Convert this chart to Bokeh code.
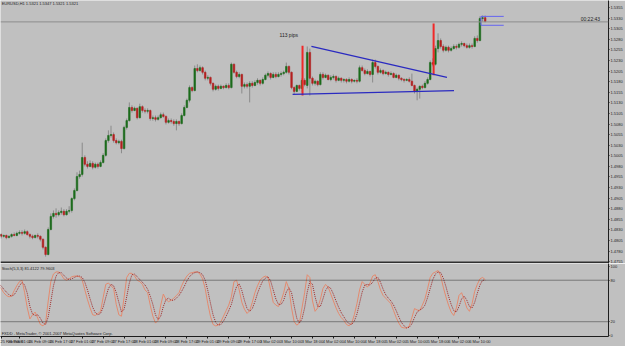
from bokeh.plotting import figure
from bokeh.layouts import column
from bokeh.models import (Range1d, FixedTicker, Span, Label, ColumnDataSource,
                          PrintfTickFormatter)
from bokeh.embed import file_html
from bokeh.resources import INLINE

# ---------------- data (EURUSD H1) ----------------
opens = [
    1.4817, 1.4819, 1.4815, 1.4817, 1.4812, 1.4815, 1.4819, 1.4817, 1.4822, 1.4824,
    1.4822, 1.4826, 1.4819, 1.4815, 1.4812, 1.4817, 1.4815, 1.4808, 1.4789, 1.4772,
    1.4831, 1.4862, 1.4869, 1.4866, 1.4871, 1.4874, 1.4866, 1.4874, 1.4876, 1.4904,
    1.4923, 1.4956, 1.4961, 1.5001, 1.4985, 1.4980, 1.4987, 1.4978, 1.4985, 1.4980,
    1.4989, 1.5006, 1.5041, 1.5053, 1.5055, 1.5041, 1.5036, 1.5039, 1.5022, 1.5072,
    1.5088, 1.5119, 1.5112, 1.5117, 1.5095, 1.5121, 1.5112, 1.5110, 1.5112, 1.5093,
    1.5095, 1.5091, 1.5095, 1.5102, 1.5098, 1.5084, 1.5088, 1.5086, 1.5081, 1.5086,
    1.5081, 1.5100, 1.5119, 1.5136, 1.5166, 1.5159, 1.5211, 1.5206, 1.5213, 1.5202,
    1.5188, 1.5190, 1.5176, 1.5162, 1.5169, 1.5164, 1.5169, 1.5166, 1.5171, 1.5166,
    1.5221, 1.5202, 1.5192, 1.5197, 1.5169, 1.5173, 1.5169, 1.5176, 1.5171, 1.5178,
    1.5183, 1.5176, 1.5185, 1.5195, 1.5199, 1.5190, 1.5197, 1.5192, 1.5197, 1.5199,
    1.5202, 1.5216, 1.5202, 1.5166, 1.5157, 1.5171, 1.5164, 1.5183, 1.5171, 1.5249,
    1.5188, 1.5176, 1.5181, 1.5173, 1.5197, 1.5190, 1.5195, 1.5185, 1.5190, 1.5192,
    1.5183, 1.5188, 1.5183, 1.5185, 1.5181, 1.5185, 1.5181, 1.5183, 1.5181, 1.5213,
    1.5206, 1.5199, 1.5204, 1.5197, 1.5225, 1.5216, 1.5202, 1.5206, 1.5199, 1.5202,
    1.5197, 1.5199, 1.5190, 1.5195, 1.5188, 1.5185, 1.5183, 1.5185, 1.5181, 1.5171,
    1.5157, 1.5162, 1.5169, 1.5166, 1.5176, 1.5185, 1.5225, 1.5221, 1.5258, 1.5277,
    1.5263, 1.5254, 1.5261, 1.5254, 1.5258, 1.5263, 1.5261, 1.5268, 1.5270, 1.5265,
    1.5261, 1.5265, 1.5263, 1.5282, 1.5277, 1.5329, 1.5331,
]
highs = [
    1.4824, 1.4822, 1.4819, 1.4819, 1.4817, 1.4822, 1.4824, 1.4826, 1.4829, 1.4829,
    1.4831, 1.4829, 1.4822, 1.4819, 1.4819, 1.4822, 1.4817, 1.4810, 1.4791, 1.4836,
    1.4869, 1.4876, 1.4881, 1.4876, 1.4883, 1.4879, 1.4879, 1.4886, 1.4907, 1.4928,
    1.4966, 1.4970, 1.5036, 1.5006, 1.4992, 1.4994, 1.4992, 1.4989, 1.4989, 1.4994,
    1.5011, 1.5046, 1.5065, 1.5076, 1.5060, 1.5046, 1.5043, 1.5043, 1.5076, 1.5093,
    1.5131, 1.5124, 1.5121, 1.5119, 1.5128, 1.5124, 1.5117, 1.5117, 1.5114, 1.5100,
    1.5100, 1.5100, 1.5107, 1.5107, 1.5100, 1.5093, 1.5093, 1.5091, 1.5091, 1.5088,
    1.5105, 1.5124, 1.5140, 1.5171, 1.5169, 1.5218, 1.5221, 1.5218, 1.5216, 1.5206,
    1.5195, 1.5192, 1.5178, 1.5173, 1.5173, 1.5173, 1.5171, 1.5176, 1.5176, 1.5225,
    1.5223, 1.5206, 1.5202, 1.5199, 1.5178, 1.5178, 1.5181, 1.5181, 1.5183, 1.5188,
    1.5185, 1.5190, 1.5199, 1.5204, 1.5202, 1.5202, 1.5202, 1.5202, 1.5204, 1.5206,
    1.5225, 1.5218, 1.5204, 1.5169, 1.5173, 1.5173, 1.5188, 1.5188, 1.5263, 1.5258,
    1.5192, 1.5185, 1.5183, 1.5202, 1.5202, 1.5199, 1.5197, 1.5195, 1.5197, 1.5195,
    1.5192, 1.5190, 1.5188, 1.5188, 1.5190, 1.5188, 1.5185, 1.5188, 1.5218, 1.5218,
    1.5211, 1.5209, 1.5206, 1.5232, 1.5232, 1.5218, 1.5211, 1.5209, 1.5206, 1.5204,
    1.5204, 1.5202, 1.5199, 1.5197, 1.5190, 1.5188, 1.5188, 1.5190, 1.5199, 1.5173,
    1.5166, 1.5171, 1.5173, 1.5181, 1.5190, 1.5230, 1.5235, 1.5265, 1.5294, 1.5282,
    1.5268, 1.5265, 1.5265, 1.5263, 1.5268, 1.5268, 1.5272, 1.5275, 1.5272, 1.5270,
    1.5270, 1.5270, 1.5287, 1.5289, 1.5334, 1.5336, 1.5336,
]
lows = [
    1.4812, 1.4810, 1.4812, 1.4808, 1.4810, 1.4812, 1.4815, 1.4815, 1.4819, 1.4817,
    1.4819, 1.4817, 1.4810, 1.4808, 1.4810, 1.4810, 1.4803, 1.4784, 1.4767, 1.4770,
    1.4829, 1.4857, 1.4859, 1.4862, 1.4866, 1.4862, 1.4864, 1.4869, 1.4871, 1.4900,
    1.4921, 1.4951, 1.4956, 1.4980, 1.4975, 1.4978, 1.4973, 1.4975, 1.4975, 1.4978,
    1.4987, 1.5003, 1.5036, 1.5048, 1.5036, 1.5032, 1.5032, 1.5011, 1.5020, 1.5067,
    1.5086, 1.5107, 1.5110, 1.5091, 1.5093, 1.5107, 1.5105, 1.5105, 1.5088, 1.5088,
    1.5086, 1.5088, 1.5093, 1.5095, 1.5079, 1.5081, 1.5081, 1.5076, 1.5065, 1.5076,
    1.5079, 1.5098, 1.5117, 1.5131, 1.5155, 1.5157, 1.5202, 1.5204, 1.5197, 1.5183,
    1.5183, 1.5171, 1.5157, 1.5159, 1.5159, 1.5162, 1.5162, 1.5164, 1.5162, 1.5164,
    1.5199, 1.5188, 1.5188, 1.5152, 1.5164, 1.5164, 1.5131, 1.5166, 1.5169, 1.5173,
    1.5171, 1.5173, 1.5183, 1.5190, 1.5185, 1.5188, 1.5188, 1.5190, 1.5192, 1.5195,
    1.5199, 1.5197, 1.5162, 1.5150, 1.5155, 1.5159, 1.5155, 1.5169, 1.5164, 1.5147,
    1.5171, 1.5171, 1.5169, 1.5171, 1.5185, 1.5188, 1.5183, 1.5181, 1.5185, 1.5178,
    1.5181, 1.5178, 1.5178, 1.5176, 1.5178, 1.5176, 1.5178, 1.5176, 1.5178, 1.5204,
    1.5195, 1.5197, 1.5192, 1.5178, 1.5211, 1.5197, 1.5199, 1.5195, 1.5197, 1.5192,
    1.5195, 1.5188, 1.5188, 1.5183, 1.5181, 1.5178, 1.5181, 1.5178, 1.5169, 1.5152,
    1.5136, 1.5140, 1.5162, 1.5164, 1.5173, 1.5183, 1.5216, 1.5218, 1.5249, 1.5258,
    1.5249, 1.5251, 1.5249, 1.5251, 1.5256, 1.5256, 1.5258, 1.5263, 1.5261, 1.5258,
    1.5258, 1.5258, 1.5261, 1.5272, 1.5275, 1.5322, 1.5320,
]
closes = [
    1.4819, 1.4815, 1.4817, 1.4812, 1.4815, 1.4819, 1.4817, 1.4822, 1.4824, 1.4822,
    1.4826, 1.4819, 1.4815, 1.4812, 1.4817, 1.4815, 1.4808, 1.4789, 1.4772, 1.4831,
    1.4862, 1.4869, 1.4866, 1.4871, 1.4874, 1.4866, 1.4874, 1.4876, 1.4904, 1.4923,
    1.4956, 1.4961, 1.5001, 1.4985, 1.4980, 1.4987, 1.4978, 1.4985, 1.4980, 1.4989,
    1.5006, 1.5041, 1.5053, 1.5055, 1.5041, 1.5036, 1.5039, 1.5022, 1.5072, 1.5088,
    1.5119, 1.5112, 1.5117, 1.5095, 1.5121, 1.5112, 1.5110, 1.5112, 1.5093, 1.5095,
    1.5091, 1.5095, 1.5102, 1.5098, 1.5084, 1.5088, 1.5086, 1.5081, 1.5086, 1.5081,
    1.5100, 1.5119, 1.5136, 1.5166, 1.5159, 1.5211, 1.5206, 1.5213, 1.5202, 1.5188,
    1.5190, 1.5176, 1.5162, 1.5169, 1.5164, 1.5169, 1.5166, 1.5171, 1.5166, 1.5221,
    1.5202, 1.5192, 1.5197, 1.5169, 1.5173, 1.5169, 1.5176, 1.5171, 1.5178, 1.5183,
    1.5176, 1.5185, 1.5195, 1.5199, 1.5190, 1.5197, 1.5192, 1.5197, 1.5199, 1.5202,
    1.5216, 1.5202, 1.5166, 1.5157, 1.5171, 1.5164, 1.5183, 1.5173, 1.5249, 1.5188,
    1.5176, 1.5181, 1.5173, 1.5197, 1.5190, 1.5195, 1.5185, 1.5190, 1.5192, 1.5183,
    1.5188, 1.5183, 1.5185, 1.5181, 1.5185, 1.5181, 1.5183, 1.5181, 1.5213, 1.5206,
    1.5199, 1.5204, 1.5197, 1.5225, 1.5216, 1.5202, 1.5206, 1.5199, 1.5202, 1.5197,
    1.5199, 1.5190, 1.5195, 1.5188, 1.5185, 1.5183, 1.5185, 1.5181, 1.5171, 1.5157,
    1.5162, 1.5169, 1.5166, 1.5176, 1.5185, 1.5225, 1.5221, 1.5258, 1.5277, 1.5263,
    1.5254, 1.5261, 1.5254, 1.5258, 1.5263, 1.5261, 1.5268, 1.5270, 1.5265, 1.5261,
    1.5265, 1.5263, 1.5282, 1.5277, 1.5329, 1.5331, 1.5322,
]

stoch_main = [
    72, 68, 62, 58, 56, 57, 65, 72, 78, 80,
    62, 40, 24, 30, 34, 25, 16, 14, 18, 50,
    78, 89, 92, 92, 88, 82, 80, 82, 85, 86,
    86, 85, 80, 66, 52, 40, 30, 29, 32, 35,
    55, 74, 76, 72, 68, 45, 30, 28, 55, 84,
    90, 90, 86, 80, 78, 74, 66, 62, 44, 28,
    18, 22, 44, 60, 52, 49, 51, 54, 58, 62,
    72, 80, 86, 90, 91, 92, 92, 89, 82, 68,
    46, 28, 16, 14, 15, 20, 28, 36, 44, 56,
    78, 80, 66, 48, 38, 32, 36, 48, 62, 72,
    80, 84, 86, 84, 66, 48, 44, 42, 50, 62,
    78, 68, 40, 20, 15, 18, 40, 62, 88, 84,
    50, 35, 40, 52, 68, 74, 70, 60, 50, 40,
    32, 26, 22, 16, 14, 18, 30, 46, 66, 78,
    74, 70, 76, 86, 88, 78, 66, 58, 54, 50,
    46, 36, 26, 18, 12, 11, 11, 14, 26, 39,
    37, 36, 44, 53, 68, 84, 90, 92, 94, 86,
    70, 56, 44, 34, 29, 40, 58, 62, 52, 40,
    35, 46, 64, 74, 82, 84, 81,
]
stoch_signal = [
    74, 72, 67, 63, 59, 57, 59, 65, 72, 77,
    73, 61, 42, 31, 29, 30, 25, 18, 16, 27,
    49, 72, 86, 91, 91, 87, 83, 81, 82, 84,
    86, 86, 84, 77, 66, 53, 41, 33, 30, 32,
    41, 55, 68, 74, 72, 62, 48, 34, 38, 56,
    76, 88, 89, 85, 81, 77, 73, 67, 57, 45,
    30, 23, 28, 42, 52, 54, 51, 51, 54, 58,
    64, 71, 79, 85, 89, 91, 92, 91, 88, 80,
    65, 47, 30, 19, 15, 16, 21, 28, 36, 45,
    59, 71, 75, 65, 51, 39, 35, 39, 49, 61,
    71, 79, 83, 85, 79, 66, 53, 45, 45, 51,
    63, 69, 62, 43, 25, 18, 24, 40, 63, 78,
    74, 56, 42, 42, 53, 65, 71, 68, 60, 50,
    41, 33, 27, 21, 17, 16, 21, 31, 47, 63,
    73, 74, 73, 77, 83, 84, 77, 67, 59, 54,
    50, 44, 36, 27, 19, 14, 11, 12, 17, 26,
    34, 37, 39, 44, 55, 68, 81, 89, 92, 91,
    83, 71, 57, 45, 36, 34, 42, 53, 57, 51,
    42, 40, 48, 61, 73, 80, 80,
]

price_ticks = [1.4755, 1.4780, 1.4805, 1.4830, 1.4855, 1.4880, 1.4905, 1.4930,
               1.4955, 1.4980, 1.5005, 1.5030, 1.5055, 1.5080, 1.5105, 1.5130,
               1.5155, 1.5180, 1.5205, 1.5230, 1.5255, 1.5280, 1.5305, 1.5330,
               1.5355]
stoch_ticks = [0, 20, 80, 100]
stoch_levels = [20, 80]

time_tick_bars = [1, 8, 16, 24, 32, 40, 48, 56, 64, 72, 80, 88, 96, 104, 112,
                  120, 128, 136, 144, 152, 160, 168, 176, 184]
time_tick_labels = ["25 Feb 2008", "26 Feb 01:00", "26 Feb 09:00", "26 Feb 17:00",
                    "27 Feb 01:00", "27 Feb 09:00", "27 Feb 17:00", "28 Feb 01:00",
                    "28 Feb 09:00", "28 Feb 17:00", "29 Feb 01:00", "29 Feb 09:00",
                    "29 Feb 17:00", "3 Mar 02:00", "3 Mar 10:00", "3 Mar 18:00",
                    "4 Mar 02:00", "4 Mar 10:00", "4 Mar 18:00", "5 Mar 02:00",
                    "5 Mar 10:00", "5 Mar 18:00", "6 Mar 02:00", "6 Mar 10:00"]

bid_price = 1.5321

# drawn objects (bar index, price)
red_line_bar = [116.2, 166.3]
red_line_top = [1.5265, 1.5317]
red_line_bottom = [1.5147, 1.5195]
trend_x0 = [119.6, 112.4]
trend_y0 = [1.5263, 1.5150]
trend_x1 = [171.4, 174.1]
trend_y1 = [1.5190, 1.5159]
box_x0 = [184.4, 184.4, 184.4]
box_x1 = [193.1, 193.1, 184.4]
box_y0 = [1.5334, 1.5313, 1.5334]
box_y1 = [1.5334, 1.5313, 1.5313]

# ---------------- styling ----------------
BG = "#c0c0c0"
AXC = "#1e1e1e"
FONT = "Liberation Sans"
BULL = "#1c6b1c"
BEAR = "#b42020"
WICK = "#8a8a8a"

n = min(len(opens), len(highs), len(lows), len(closes))
idx = list(range(n))
src = ColumnDataSource(dict(
    x=idx, o=opens[:n], h=highs[:n], l=lows[:n], c=closes[:n],
    top=[max(a, b) for a, b in zip(opens[:n], closes[:n])],
    bot=[min(a, b) for a, b in zip(opens[:n], closes[:n])],
    col=[BULL if c >= o else BEAR for o, c in zip(opens[:n], closes[:n])],
))

FRAME_W = 610
PX_PER_BAR = 2.625
XS = 2.0 / PX_PER_BAR
XE = XS + FRAME_W / PX_PER_BAR
xr = Range1d(XS, XE)

p = figure(width=625, height=263, x_range=xr, y_range=Range1d(1.47508, 1.53715),
           output_backend="svg", toolbar_location=None,
           x_axis_location=None, y_axis_location="right",
           min_border_left=0, min_border_right=15, min_border_top=0, min_border_bottom=0,
           background_fill_color=BG, border_fill_color=BG, outline_line_color=None)
p.grid.visible = False
ya = p.yaxis[0]
ya.ticker = FixedTicker(ticks=price_ticks)
ya.formatter = PrintfTickFormatter(format="%.4f")
ya.major_label_text_font_size = "4px"
ya.major_label_text_font = FONT
ya.major_label_text_color = AXC
ya.major_label_standoff = 1
ya.major_tick_out = 1
ya.major_tick_in = 0
ya.minor_tick_out = 0
ya.minor_tick_in = 0
ya.axis_line_color = AXC
ya.major_tick_line_color = AXC

p.add_layout(Span(location=bid_price, dimension="width", line_color="#8c8c8c", line_width=1))
p.segment(x0="x", y0="l", x1="x", y1="h", source=src, line_color=WICK, line_width=1)
p.vbar(x="x", width=0.6, top="top", bottom="bot", source=src,
       fill_color="col", line_color="col", line_width=0.6)

p.segment(x0=red_line_bar, y0=red_line_bottom, x1=red_line_bar, y1=red_line_top,
          line_color="#f02828", line_width=2)
p.segment(x0=trend_x0, y0=trend_y0, x1=trend_x1, y1=trend_y1,
          line_color="#2a2ac0", line_width=1.3)
p.segment(x0=box_x0, y0=box_y0, x1=box_x1, y1=box_y1,
          line_color="#6464f0", line_width=1)

p.add_layout(Span(location=1.47532, dimension="width", line_color="#303030", line_width=2))

p.add_layout(Label(x=1.2, y=1.5364, text="EURUSD,H1  1.5321 1.5347 1.5321 1.5321",
                   text_font_size="4px", text_font=FONT, text_color=AXC, text_baseline="middle"))
p.add_layout(Label(x=107.4, y=1.5291, text="113 pips", text_font_size="5px",
                   text_font=FONT, text_color=AXC, text_baseline="middle"))
p.add_layout(Label(x=222.5, y=1.5329, text="00:22:43", text_font_size="5px",
                   text_font=FONT, text_color=AXC, text_baseline="middle"))
p.add_layout(Label(x=XE, y=bid_price, x_offset=1, text="1.5321", text_font_size="4px",
                   text_font=FONT, text_color="white", text_baseline="middle",
                   background_fill_color="black"))

# ---------------- stochastic panel ----------------
ssrc = ColumnDataSource(dict(x=idx, k=stoch_main[:n], d=stoch_signal[:n]))
q = figure(width=625, height=83, x_range=xr, y_range=Range1d(-1.4, 104.2),
           output_backend="svg", toolbar_location=None,
           x_axis_location="below", y_axis_location="right",
           min_border_left=0, min_border_right=15, min_border_top=0, min_border_bottom=0,
           background_fill_color=BG, border_fill_color=BG, outline_line_color=None)
q.grid.visible = False
qy = q.yaxis[0]
qy.ticker = FixedTicker(ticks=stoch_ticks)
qy.major_label_text_font_size = "4px"
qy.major_label_text_font = FONT
qy.major_label_text_color = AXC
qy.major_label_standoff = 1
qy.major_tick_out = 1
qy.major_tick_in = 0
qy.minor_tick_out = 0
qy.minor_tick_in = 0
qy.axis_line_color = AXC
qy.major_tick_line_color = AXC

qx = q.xaxis[0]
qx.ticker = FixedTicker(ticks=time_tick_bars)
qx.major_label_overrides = {b: t for b, t in zip(time_tick_bars, time_tick_labels)}
qx.major_label_text_font_size = "4px"
qx.major_label_text_font = FONT
qx.major_label_text_color = AXC
qx.major_label_text_align = "left"
qx.major_label_standoff = 0
qx.major_tick_out = 2
qx.major_tick_in = 0
qx.minor_tick_out = 0
qx.minor_tick_in = 0
qx.axis_line_color = AXC
qx.major_tick_line_color = AXC

for lv in stoch_levels:
    q.add_layout(Span(location=lv, dimension="width", line_color="#303030",
                      line_width=1, line_dash="1 1"))
q.line(x="x", y="k", source=ssrc, line_color="#e48a6e", line_width=1)
q.line(x="x", y="d", source=ssrc, line_color="#a02828", line_width=1, line_dash="1 1")

q.add_layout(Label(x=1.2, y=97, text="Stoch(5,3,3) 81.4122 79.9603",
                   text_font_size="4px", text_font=FONT, text_color=AXC, text_baseline="middle"))
q.add_layout(Label(x=1.2, y=2.5, text="FXDD - MetaTrader, © 2001-2007 MetaQuotes Software Corp.",
                   text_font_size="4px", text_font=FONT, text_color=AXC, text_baseline="middle"))

layout = column(p, q, spacing=0)
open("out.html", "w").write(file_html(layout, INLINE))
